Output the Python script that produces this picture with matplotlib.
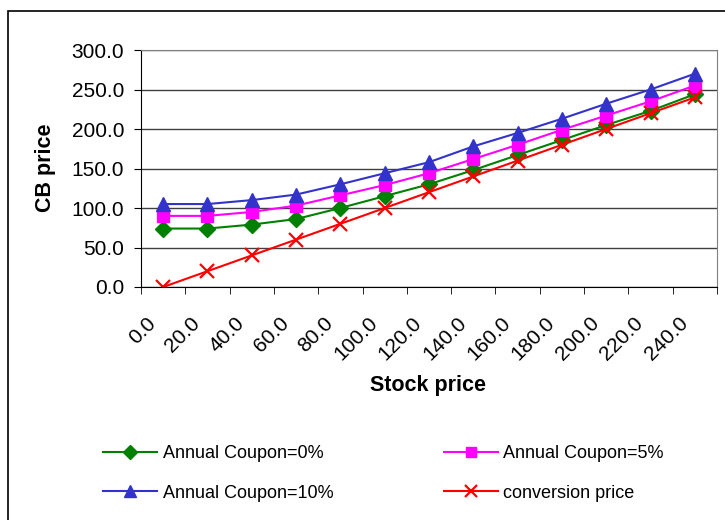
import numpy as np
import matplotlib
matplotlib.use("Agg")
import matplotlib.pyplot as plt
from matplotlib.patches import Rectangle

plt.rcParams['font.family'] = ['Liberation Sans', 'DejaVu Sans']

stock = [0.0, 20.0, 40.0, 60.0, 80.0, 100.0, 120.0, 140.0, 160.0, 180.0, 200.0, 220.0, 240.0]
coupon0 = [74, 74, 79, 86, 100, 115, 130, 148, 167, 186, 205, 223, 244]
coupon5 = [90, 90, 95, 103, 116, 129, 144, 162, 180, 199, 217, 235, 255]
coupon10 = [105, 105, 110, 117, 130, 144, 158, 178, 195, 213, 232, 250, 270]
conversion = [0, 20, 40, 60, 80, 100, 120, 140, 160, 180, 200, 220, 240]

W, H = 725, 520
fig = plt.figure(figsize=(W / 100, H / 100), dpi=100)

# outer chart border (cut off at right/bottom like the original)
fig.patches.append(Rectangle((8 / W, -0.1), 1.2, 1 - 11 / H + 0.1, transform=fig.transFigure,
                             fill=False, edgecolor='black', linewidth=1.2))

ax = fig.add_axes([141 / W, 1 - 287 / H, (717 - 141) / W, (287 - 50) / H])
x = np.arange(len(stock))

ax.plot(x, coupon0, color='#008000', marker='D', markersize=8.5, linewidth=1.5, label='Annual Coupon=0%')
ax.plot(x, coupon5, color='#FF00FF', marker='s', markersize=8.5, linewidth=1.5, label='Annual Coupon=5%')
ax.plot(x, coupon10, color='#3333CC', marker='^', markersize=10, linewidth=1.5, label='Annual Coupon=10%')
ax.plot(x, conversion, color='#FF0000', marker='x', markersize=10, markeredgewidth=1.6,
        linewidth=1.5, label='conversion price')

ax.set_xlim(-0.5, len(stock) - 0.5)
ax.set_ylim(0, 300)
ax.set_yticks(np.arange(0, 301, 50))
ax.set_yticklabels(['%.1f' % v for v in np.arange(0, 301, 50)], fontsize=15)
# category labels: anchored a little left of each category centre, like Excel
ax.set_xticks(x - 0.38)
ax.set_xticklabels(['%.1f' % v for v in stock], fontsize=15, rotation=45,
                   ha='right', va='top', rotation_mode='anchor')
ax.set_xticks(np.arange(-0.5, len(stock)), minor=True)
ax.tick_params(axis='x', which='major', length=0, pad=19)
ax.tick_params(axis='x', which='minor', length=5, direction='out')
ax.tick_params(axis='y', length=5, direction='out', pad=7)
ax.grid(axis='y', color='#404040', linewidth=1)
ax.set_axisbelow(True)

for s in ['top', 'right']:
    ax.spines[s].set_color('#808080')
for s in ['left', 'bottom']:
    ax.spines[s].set_color('black')

fig.text(45 / W, 1 - 168 / H, 'CB price', rotation=90, ha='center', va='center',
         fontsize=15.5, fontweight='bold')
fig.text(428 / W, 1 - 386 / H, 'Stock price', ha='center', va='center',
         fontsize=15.5, fontweight='bold')

handles, labels = ax.get_legend_handles_labels()
order = [0, 2, 1, 3]
fig.legend([handles[i] for i in order], [labels[i] for i in order], ncol=2,
           loc='upper left', bbox_to_anchor=(87 / W, 1 - 429 / H), frameon=False,
           fontsize=13, handlelength=3.0, handletextpad=0.3, columnspacing=6.1,
           labelspacing=1.25, markerscale=0.8)

fig.savefig('out.png', dpi=100)
